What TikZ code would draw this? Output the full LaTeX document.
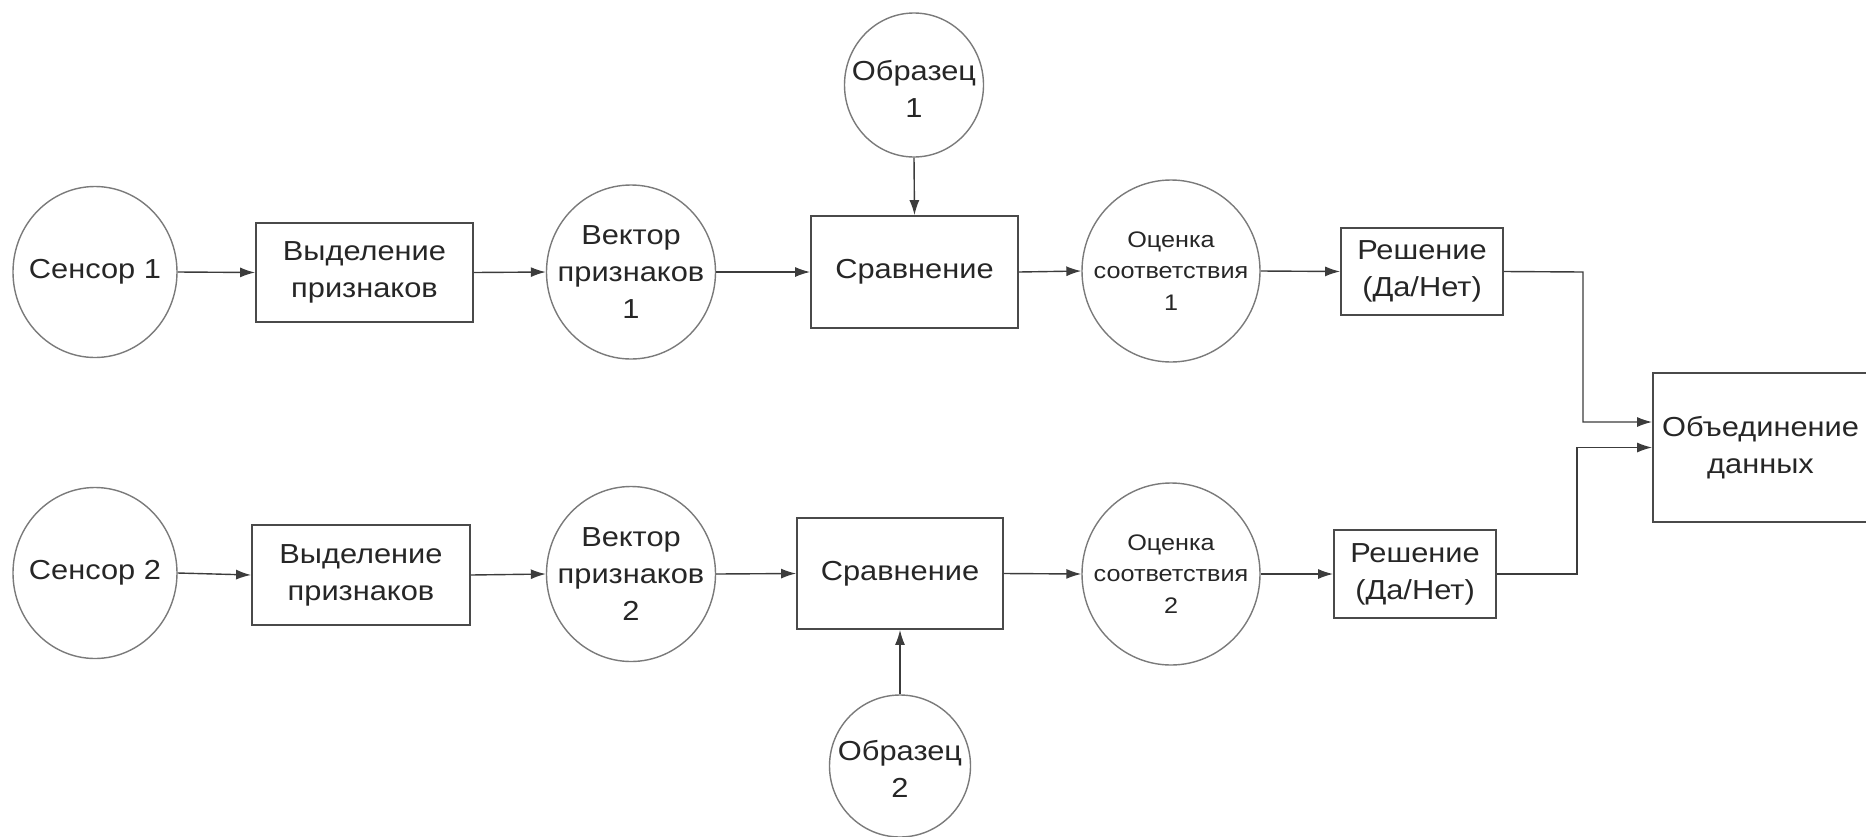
\documentclass[tikz,border=0pt]{standalone}
\usepackage{fontspec}
\setmainfont[FakeStretch=1.12]{Liberation Sans}
\usetikzlibrary{arrows.meta,shapes.geometric}
\definecolor{txt}{HTML}{262626}
\definecolor{circ}{HTML}{7A7A7A}
\definecolor{boxc}{HTML}{4A4A4A}
\definecolor{linec}{HTML}{3C3C3C}
\newcommand\mainsz{\fontsize{27.5}{37}\selectfont}
\newcommand\smallsz{\fontsize{22.5}{31.5}\selectfont}
\tikzset{
  rnd/.style={ellipse,draw=circ,line width=1.4pt,inner sep=0pt},
  lbl/.style={align=center,text=txt,font=\mainsz,inner sep=0pt},
  slbl/.style={align=center,text=txt,font=\smallsz,inner sep=0pt},
  bx/.style={rectangle,draw=boxc,line width=1.8pt,inner sep=0pt,align=center,text=txt,font=\mainsz},
  arr/.style={draw=linec,line width=1.4pt,-{Latex[length=15pt,width=10pt]}}
}
\begin{document}
\begin{tikzpicture}[x=1pt,y=-1pt]
\useasboundingbox (0,0) rectangle (1866,836);
% row 1
\node[rnd,minimum width=164pt,minimum height=171pt,label={[lbl]center:Сенсор 1}] (sens1) at (95,272) {};
\node[bx,minimum width=217pt,minimum height=99pt] (vyd1) at (364.5,272.5) {Выделение\\признаков};
\node[rnd,minimum width=169pt,minimum height=174pt,label={[lbl]center:{Вектор\\признаков\\1}}] (vec1) at (631,272) {};
\node[bx,minimum width=207pt,minimum height=112pt] (srav1) at (914.5,272) {Сравнение};
\node[rnd,minimum width=139pt,minimum height=144pt,label={[lbl,yshift=-4pt]center:{Образец\\1}}] (obr1) at (914,85) {};
\node[rnd,minimum width=178pt,minimum height=182pt,label={[slbl]center:{Оценка\\соответствия\\1}}] (oc1) at (1171,271) {};
\node[bx,minimum width=162pt,minimum height=87pt] (resh1) at (1422,271.5) {Решение\\(Да/Нет)};
% row 2
\node[rnd,minimum width=164pt,minimum height=171pt,label={[lbl]center:Сенсор 2}] (sens2) at (95,573) {};
\node[bx,minimum width=218pt,minimum height=100pt] (vyd2) at (361,575) {Выделение\\признаков};
\node[rnd,minimum width=169pt,minimum height=175pt,label={[lbl]center:{Вектор\\признаков\\2}}] (vec2) at (631,574) {};
\node[bx,minimum width=206pt,minimum height=111pt] (srav2) at (900,573.5) {Сравнение};
\node[rnd,minimum width=141pt,minimum height=142pt,label={[lbl,yshift=-3pt]center:{Образец\\2}}] (obr2) at (900,766) {};
\node[rnd,minimum width=178pt,minimum height=182pt,label={[slbl]center:{Оценка\\соответствия\\2}}] (oc2) at (1171,574) {};
\node[bx,minimum width=162pt,minimum height=88pt] (resh2) at (1415,574) {Решение\\(Да/Нет)};
% fusion
\node[bx,minimum width=215pt,minimum height=149pt] (obed) at (1760.5,447.5) {Объединение\\данных};
\coordinate (j1) at (1583,272);
\coordinate (j2) at (1577,574);
% connectors row 1
\draw[arr] (sens1.east) -- (vyd1.west);
\draw[arr] (vyd1.east) -- (vec1.west);
\draw[arr] (vec1.east) -- (srav1.west);
\draw[arr] (srav1.east) -- (oc1.west);
\draw[arr] (oc1.east) -- (resh1.west);
\draw[arr] (obr1.south) -- (srav1.north);
% connectors row 2
\draw[arr] (sens2.east) -- (vyd2.west);
\draw[arr] (vyd2.east) -- (vec2.west);
\draw[arr] (vec2.east) -- (srav2.west);
\draw[arr] (srav2.east) -- (oc2.west);
\draw[arr] (oc2.east) -- (resh2.west);
\draw[arr] (obr2.north) -- (srav2.south);
% to fusion
\draw[arr] (resh1.east) -- (j1) |- ([yshift=25.5pt]obed.west);
\draw[arr] (resh2.east) -- (j2) |- (obed.west);
\end{tikzpicture}
\end{document}
